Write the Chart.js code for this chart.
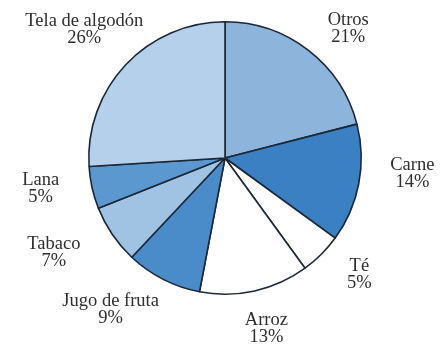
<!DOCTYPE html>
<html>
<head>
<meta charset="utf-8">
<script src="https://cdn.jsdelivr.net/npm/chart.js@4/dist/chart.umd.min.js"></script>
<style>
  html, body { margin: 0; padding: 0; background: #ffffff; }
  #wrap { width: 440px; height: 352px; }
</style>
</head>
<body>
<div id="wrap"><canvas id="c" width="440" height="352"></canvas></div>
<script>
// Slices clockwise from 12 o'clock
const categories = ['Otros', 'Carne', 'Té', 'Arroz', 'Jugo de fruta', 'Tabaco', 'Lana', 'Tela de algodón'];
const shares = [21, 14, 5, 13, 9, 7, 5, 26];
const sliceColors = ['#8db5dc', '#3a80c2', '#ffffff', '#ffffff', '#4a8cca', '#a0c3e4', '#5b98d0', '#b5d0ea'];

// Label placement: angle nudge (deg) and distance from the pie centre (px)
const labelLayout = [
  [6, 178], [-6, 188], [-4, 178], [-1, 176],
  [10, 190], [5, 196], [3, 187], [-1, 190]
];

const outsideLabels = {
  id: 'outsideLabels',
  afterDatasetsDraw(chart) {
    const ctx = chart.ctx;
    const meta = chart.getDatasetMeta(0);
    ctx.save();
    ctx.fillStyle = '#2e2e2e';
    ctx.font = '18.5px "Liberation Serif", "DejaVu Serif", serif';
    ctx.textAlign = 'center';
    ctx.textBaseline = 'middle';
    meta.data.forEach((arc, i) => {
      const p = arc.getProps(['x', 'y', 'startAngle', 'endAngle'], true);
      const mid = (p.startAngle + p.endAngle) / 2 + labelLayout[i][0] * Math.PI / 180;
      const d = labelLayout[i][1];
      const x = p.x + Math.cos(mid) * d;
      const y = p.y + Math.sin(mid) * d;
      ctx.fillText(categories[i], x, y - 9);
      ctx.fillText(shares[i] + '%', x, y + 8);
    });
    ctx.restore();
  }
};

new Chart(document.getElementById('c'), {
  type: 'pie',
  data: {
    labels: categories,
    datasets: [{
      data: shares,
      backgroundColor: sliceColors,
      borderColor: '#1c2836',
      borderWidth: 1.6,
      borderAlign: 'center'
    }]
  },
  options: {
    responsive: false,
    animation: false,
    layout: { padding: { left: 10, right: 0, top: 21, bottom: 57 } },
    plugins: {
      legend: { display: false },
      tooltip: { enabled: false }
    }
  },
  plugins: [outsideLabels]
});
</script>
</body>
</html>
